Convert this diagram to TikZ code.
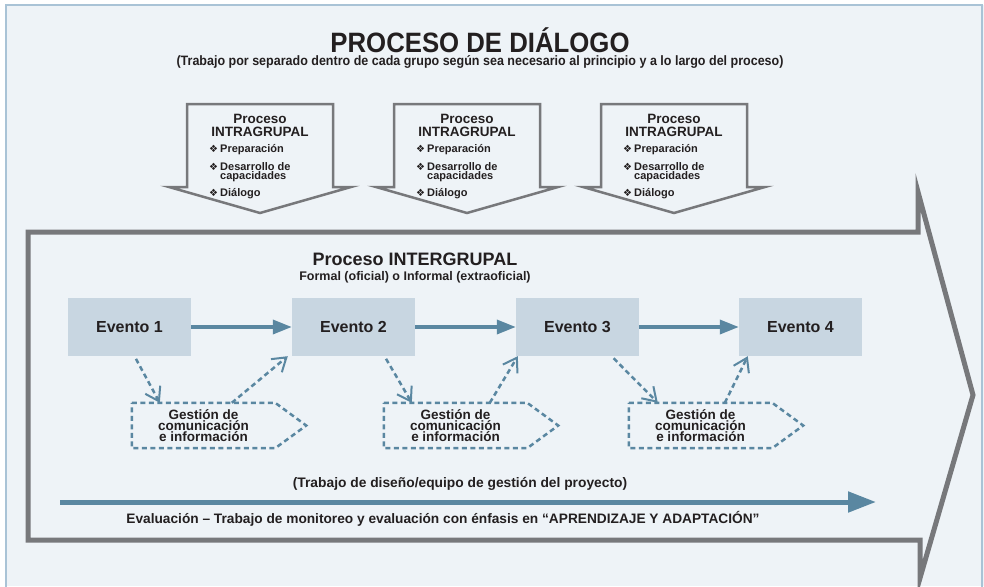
\documentclass[tikz,border=0pt]{standalone}
\usepackage{fontspec}
\setmainfont{Liberation Sans}
\newfontfamily\symfont{DejaVu Sans}
\newfontfamily\condfont[FakeStretch=0.92]{Liberation Sans}
\usetikzlibrary{arrows.meta,calc,positioning}
\definecolor{bgcol}{HTML}{EEF3F7}
\definecolor{framecol}{HTML}{A9C3D6}
\definecolor{graycol}{HTML}{77787B}
\definecolor{bluecol}{HTML}{5A87A1}
\definecolor{evcol}{HTML}{C8D6E1}
\definecolor{txtcol}{HTML}{231F20}
\newcommand{\bl}{\makebox[11pt][l]{\symfont\fontsize{10}{9}\selectfont ❖}}
\tikzset{
  evento/.style={fill=evcol, minimum width=123pt, minimum height=58pt, inner sep=0pt,
    font=\fontsize{16}{16}\selectfont\bfseries, text=txtcol},
  gestion/.style={minimum width=143pt, minimum height=45pt, inner sep=0pt, align=center,
    font=\fontsize{13.5}{11}\selectfont\bfseries, text=txtcol},
  dashbox/.style={bluecol, line width=2.5pt, dash pattern=on 5pt off 3.5pt},
  flecha/.style={bluecol, line width=3.5pt, -{Triangle[length=19pt,width=14pt]}},
  flechadash/.style={bluecol, line width=2.5pt, dash pattern=on 5pt off 3.5pt,
    -{Straight Barb[length=13pt,width=17pt,line width=2pt]}},
  intra/.style={graycol, line width=2.5pt, line join=miter},
  texto/.style={text=txtcol, inner sep=0pt, align=center}
}
\begin{document}
\begin{tikzpicture}[x=1pt, y=-1pt]
  \useasboundingbox (0,0) rectangle (984,586);
  % fondo y marco
  \fill[bgcol] (6,5) rectangle (984,586);
  \draw[framecol, line width=2.5pt] (6,590) -- (6,5) -- (982,5) -- (982,590);

  % titulo
  \node[texto, font=\condfont\fontsize{28}{28}\selectfont\bfseries] (titulo) at (480,40) {PROCESO DE DIÁLOGO};
  \node[texto, font=\condfont\fontsize{13.6}{13.6}\selectfont\bfseries] (subtitulo) at (480,62)
    {(Trabajo por separado dentro de cada grupo según sea necesario al principio y a lo largo del proceso)};

  % procesos intragrupales
  \foreach \cx [count=\i] in {260,467,674} {
    \draw[intra] (\cx-73,104) -- (\cx+73,104) -- (\cx+73,187) -- (\cx+91,187) -- (\cx,213)
      -- (\cx-91,187) -- (\cx-73,187) -- cycle;
    \node[texto, font=\fontsize{13.5}{13}\selectfont\bfseries] (intra\i) at (\cx,125) {Proceso\\INTRAGRUPAL};
    \node[texto, align=left, anchor=north west, font=\fontsize{11}{9}\selectfont\bfseries] (lista\i) at (\cx-51,144)
      {\bl Preparación\\[6.5pt] \bl Desarrollo de\\ \hspace*{11pt}capacidades\\[6.5pt] \bl Diálogo};
  }

  % flecha grande
  \draw[graycol, line width=5pt, line join=miter] (28,232) -- (918,232) -- (918,192) -- (973,395)
    -- (920,578) -- (920,540) -- (28,540) -- cycle;

  \node[texto, font=\fontsize{18}{18}\selectfont\bfseries] (inter) at (415,259) {Proceso INTERGRUPAL};
  \node[texto, font=\fontsize{12.5}{12.5}\selectfont\bfseries] (intersub) at (415,277) {Formal (oficial) o Informal (extraoficial)};

  % eventos
  \node[evento] (ev1) at (129.5,327) {Evento 1};
  \node[evento] (ev2) at (353.5,327) {Evento 2};
  \node[evento] (ev3) at (577.5,327) {Evento 3};
  \node[evento] (ev4) at (800.5,327) {Evento 4};

  \draw[flecha] (ev1) -- (ev2);
  \draw[flecha] (ev2) -- (ev3);
  \draw[flecha] (ev3) -- (ev4);

  % gestion de comunicacion
  \node[gestion] (g1) at (203.5,425.5) {Gestión de\\comunicación\\e información};
  \node[gestion] (g2) at (455.5,425.5) {Gestión de\\comunicación\\e información};
  \node[gestion] (g3) at (700.5,425.5) {Gestión de\\comunicación\\e información};
  \foreach \g in {g1,g2,g3}
    \draw[dashbox] (\g.north west) -- (\g.north east) -- ([xshift=31pt]\g.east) -- (\g.south east)
      -- (\g.south west) -- cycle;

  \draw[flechadash, shorten <=3pt] ([xshift=5pt]ev1.south) -- ([xshift=28pt]g1.north west);
  \draw[flechadash] ([xshift=100pt]g1.north west) -- ([xshift=-4pt]ev2.south west);
  \draw[flechadash, shorten <=3pt] ([xshift=31pt]ev2.south) -- ([xshift=28pt]g2.north west);
  \draw[flechadash] ([xshift=106pt]g2.north west) -- ([xshift=2pt]ev3.south west);
  \draw[flechadash, shorten <=3pt] ([xshift=34pt]ev3.south) -- ([xshift=29pt]g3.north west);
  \draw[flechadash] ([xshift=96pt]g3.north west) -- ([xshift=9pt]ev4.south west);

  % trabajo de monitoreo
  \node[texto, font=\fontsize{13.8}{13.8}\selectfont\bfseries] (proyecto) at (460,484)
    {(Trabajo de diseño/equipo de gestión del proyecto)};
  \coordinate (evalini) at (60,502);
  \coordinate (evalfin) at (876,502);
  \draw[bluecol, line width=5pt, -{Triangle[length=28pt,width=20pt]}] (evalini) -- (evalfin);
  \node[texto, font=\fontsize{13.7}{13.7}\selectfont\bfseries] (evaluacion) at (443,519)
    {Evaluación – Trabajo de monitoreo y evaluación con énfasis en “APRENDIZAJE Y ADAPTACIÓN”};
\end{tikzpicture}
\end{document}
